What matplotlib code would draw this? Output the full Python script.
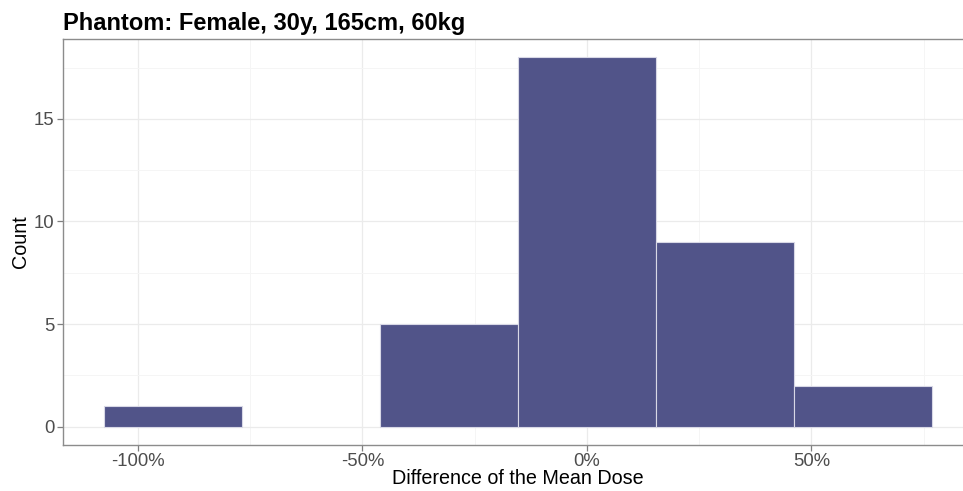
import numpy as np
import matplotlib.pyplot as plt
from matplotlib.ticker import FuncFormatter

# histogram bins (difference of mean dose, %) and counts
bin_edges = [-107.5, -76.8, -46.1, -15.4, 15.4, 46.1, 76.8]
counts = [1, 0, 5, 18, 9, 2]
x_ticks = [-100, -50, 0, 50]
y_ticks = [0, 5, 10, 15]

bar_color = "#515489"
grid_color = "#EBEBEB"
text_gray = "#4D4D4D"

plt.rcParams["font.family"] = ["Liberation Sans", "DejaVu Sans"]

fig = plt.figure(figsize=(9.63, 4.91), dpi=100)
W, H = 963, 491
# panel runs past the right edge, as in the reference
ax = fig.add_axes([63 / W, 1 - 445 / H, (973 - 63) / W, (445 - 39) / H])

edges = np.array(bin_edges)
lefts = edges[:-1]
widths = np.diff(edges)
for l, w, c in zip(lefts, widths, counts):
    if c > 0:
        ax.bar(l, c, width=w, align="edge", color=bar_color,
               edgecolor="#D8D8E6", linewidth=0.8, zorder=2)

ax.set_xlim(-116.7, 86.0)
ax.set_ylim(-0.9, 18.9)
ax.set_xticks(x_ticks)
ax.set_yticks(y_ticks)
ax.set_xticks([-75, -25, 25, 75], minor=True)
ax.set_yticks([2.5, 7.5, 12.5, 17.5], minor=True)
ax.xaxis.set_major_formatter(FuncFormatter(lambda v, p: f"{v:.0f}%"))

ax.grid(which="major", color=grid_color, linewidth=0.9, zorder=0)
ax.grid(which="minor", color="#F5F5F5", linewidth=0.7, zorder=0)
ax.set_axisbelow(True)

for s in ax.spines.values():
    s.set_color("#8C8C8C")
    s.set_linewidth(1.0)

ax.tick_params(which="major", length=4, width=0.9, color="#7F7F7F",
               labelsize=13.3, labelcolor=text_gray, pad=2)
ax.tick_params(which="minor", length=0)

ax.set_xlabel("Difference of the Mean Dose", fontsize=14.2, color="black", labelpad=1)
ax.set_ylabel("Count", fontsize=14.2, color="black")
ax.xaxis.set_label_coords(0.5, -0.06)
ax.yaxis.set_label_coords(-33 / 910, 0.5)

fig.text(63 / W, 1 - 30 / H, "Phantom: Female, 30y, 165cm, 60kg",
         fontsize=17, fontweight="bold", ha="left", va="baseline")

fig.savefig("out.png", dpi=100)
